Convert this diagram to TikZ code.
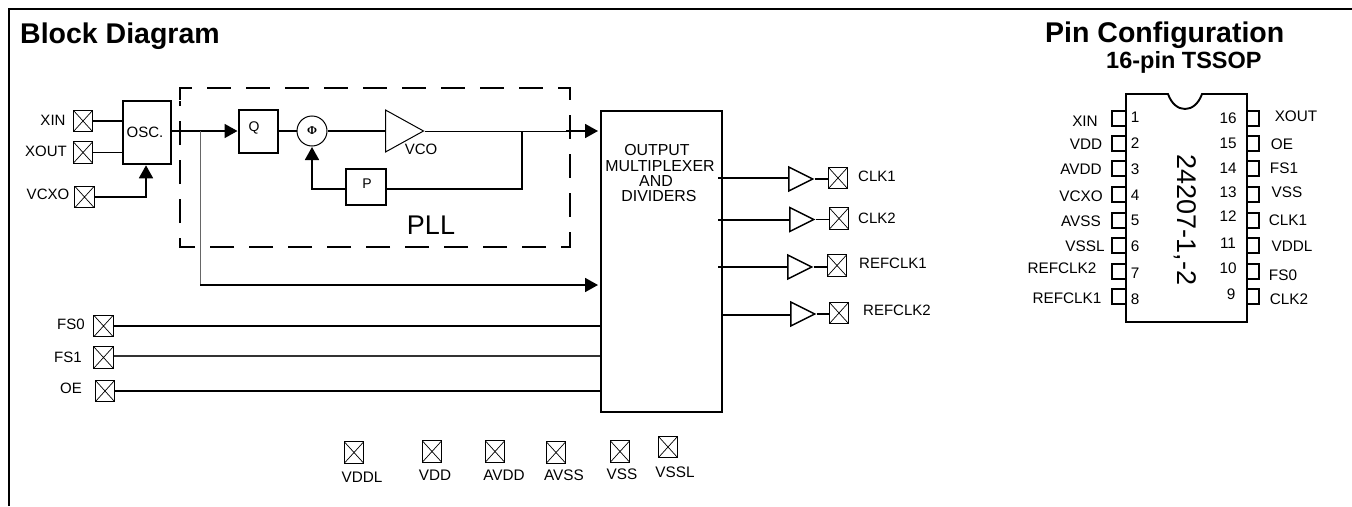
\documentclass[tikz,border=0pt]{standalone}
\usepackage{fontspec}
\setmainfont{Liberation Sans}
\newfontfamily\serifphi{Liberation Serif}
\usetikzlibrary{shapes.geometric,arrows.meta}
\newcommand{\fsz}[1]{\fontsize{#1}{#1}\selectfont}
\tikzset{
  x=1pt,y=-1pt,
  wire/.style={line width=1.8pt,black},
  thin wire/.style={line width=1pt,black!60},
  box/.style={draw,line width=1.8pt,inner sep=0pt,rectangle,anchor=north west},
  arrowed/.style={-{Triangle[width=14pt,length=13pt]},shorten >=0.5pt},
  pad/.style={draw,line width=0.9pt,inner sep=0pt,rectangle,minimum width=19.5pt,minimum height=21.5pt,
    path picture={\draw[line width=.7pt] (path picture bounding box.south west)--(path picture bounding box.north east)
      (path picture bounding box.north west)--(path picture bounding box.south east);}},
  lbl/.style={inner sep=0pt,font=\fsz{15}},
  muxlbl/.style={inner sep=0pt,font=\fsz{15.9}},
  toplbl/.style={inner sep=0pt,font=\fsz{15.3}},
  buf/.style={draw,line width=1.5pt,isosceles triangle,isosceles triangle stretches,inner sep=0pt,anchor=lower side,minimum width=24pt,minimum height=24pt},
  vco/.style={draw,line width=1pt,isosceles triangle,isosceles triangle stretches,inner sep=0pt,anchor=lower side,minimum width=42pt,minimum height=38pt},
  title/.style={inner sep=0pt,font=\bfseries\fsz{28.5}},
}
\begin{document}
\begin{tikzpicture}
\useasboundingbox (0,0) rectangle (1352,506);
\fill[white] (0,0) rectangle (1352,506);
% frame
\coordinate (f1) at (9,506); \coordinate (f2) at (9,9); \coordinate (f3) at (1352,9);
\draw[line width=1.8pt] (f1)--(f2)--(f3);
\node[title,anchor=base west] (t1) at (20,43) {Block Diagram};
\node[title,anchor=base west] (t2) at (1045,42) {Pin Configuration};
\node[inner sep=0pt,font=\bfseries\fsz{23.5},anchor=base west] (t3) at (1106,68) {16-pin TSSOP};
% PLL dashed box
\draw[line width=1.7pt,dash pattern=on 24pt off 15pt,dash phase=-1pt] (180,101) -- (180,88) -- (570,88) -- (570,247) -- (180,247) -- cycle;
% input pads
\node[pad] (pxin) at (83,121) {};
\node[pad] (pxout) at (83,152.5) {};
\node[pad] (pvcxo) at (84.5,197) {};
\node[lbl] (lxin) at (53,120) {XIN};
\node[lbl] (lxout) at (46,151) {XOUT};
\node[lbl] (lvcxo) at (48,194) {VCXO};
% blocks
\node[box,minimum width=48pt,minimum height=63pt] (osc) at (122,100) {};
\node[lbl] (losc) at (145,132) {OSC.};
\node[box,minimum width=39pt,minimum height=43pt] (q) at (238,109) {};
\node[lbl,font=\fsz{14}] (lq) at (254,128) {Q};
\node[draw,circle,line width=1pt,minimum size=30pt,inner sep=0pt,font=\serifphi\bfseries\fsz{12}] (phi) at (312,131) {Φ};
\node[vco] (v) at (385,131) {};
\node[lbl] (lv) at (421,149) {VCO};
\node[box,minimum width=40pt,minimum height=36pt] (p) at (345,168) {};
\node[lbl,font=\fsz{14}] (lp) at (367,184) {P};
\node[inner sep=0pt,font=\fsz{27}] (pll) at (431,225) {PLL};
\node[box,minimum width=121pt,minimum height=301pt] (mux) at (600,110) {};
\node[muxlbl] (m1) at (657,150) {OUTPUT};
\node[muxlbl] (m2) at (660,166) {MULTIPLEXER};
\node[muxlbl] (m3) at (656,181) {AND};
\node[muxlbl] (m4) at (659,196) {DIVIDERS};
% connectors
\draw[wire] (pxin.east) -- (pxin.east -| osc.west);
\draw[wire] (pxout.east) -- (pxout.east -| osc.west);
\coordinate (a1) at (146,197);
\draw[wire,arrowed] (pvcxo.east) -- (a1) -- (osc.south -| a1);
\draw[wire,arrowed] (170,131) -- (q.west |- 0,131);
\draw[wire] (q.east |- 0,131) -- (phi.west);
\draw[wire] (phi.east) -- (v.lower side);
\coordinate (fb) at (522,131);
\coordinate (rm) at (566,131);
\coordinate (mi) at (598.5,131);
\draw[line width=1pt] (v.apex) -- (rm);
\draw[wire,arrowed] (rm) -- (mi);
\draw[wire] (fb) -- (522,189) -- (p.east |- 0,189);
\draw[wire,arrowed] (p.west |- 0,189) -- (312,189) -- (phi.south);
\coordinate (jn) at (200,131);
\coordinate (bt) at (200,285);
\coordinate (mi2) at (598.5,285);
\draw[thin wire] (jn) -- (bt);
\draw[wire,arrowed] (bt) -- (mi2);
% control pads
\node[pad] (pfs0) at (103.5,326) {};
\node[pad] (pfs1) at (103.5,357.5) {};
\node[pad] (poe) at (105,391) {};
\node[lbl] (lfs0) at (71,324) {FS0};
\node[lbl] (lfs1) at (68,357) {FS1};
\node[lbl] (loe) at (71,388) {OE};
\draw[wire] (pfs0.east) -- (pfs0.east -| mux.west);
\draw[line width=1.1pt,black!80] (pfs1.east) ++(0,-1.5) -- (600,356);
\draw[wire] (poe.east) -- (poe.east -| mux.west);
% outputs
\node[buf] (b1) at (788,179) {};
\node[buf] (b2) at (789,219.5) {};
\node[buf] (b3) at (787,267) {};
\node[buf] (b4) at (790,314) {};
\node[pad] (o1) at (838,178) {};
\node[pad] (o2) at (839,218.5) {};
\node[pad] (o3) at (837,265.5) {};
\node[pad] (o4) at (839,313) {};
\node[lbl] (c1) at (877,176) {CLK1};
\node[lbl] (c2) at (877,218) {CLK2};
\node[lbl] (c3) at (893,263) {REFCLK1};
\node[lbl] (c4) at (897,310) {REFCLK2};
\coordinate (s1) at (718,178); \coordinate (s2) at (718,220); \coordinate (s3) at (718,267); \coordinate (s4) at (721,315);
\draw[wire] (s1) -- (s1 -| b1.lower side);
\draw[wire] (s2) -- (s2 -| b2.lower side);
\draw[wire] (s3) -- (s3 -| b3.lower side);
\draw[wire] (s4) -- (s4 -| b4.lower side);
\draw[wire] (b1.apex) -- (o1.west |- b1.apex);
\draw[wire] (b2.apex) -- (o2.west |- b2.apex);
\draw[wire] (b3.apex) -- (o3.west |- b3.apex);
\draw[wire] (b4.apex) -- (o4.west |- b4.apex);
% power pads
\node[pad] (v1) at (354,452.5) {};
\node[pad] (v2) at (432,451.5) {};
\node[pad] (v3) at (495,451.5) {};
\node[pad] (v4) at (556,452.5) {};
\node[pad] (v5) at (620,451.5) {};
\node[pad] (v6) at (668,447) {};
\node[toplbl] (w1) at (362,477) {VDDL};
\node[toplbl] (w2) at (435,475) {VDD};
\node[toplbl] (w3) at (504,475) {AVDD};
\node[toplbl] (w4) at (564,475) {AVSS};
\node[toplbl] (w5) at (622,474) {VSS};
\node[toplbl] (w6) at (675,472) {VSSL};
% IC
\coordinate (n1) at (1168,94); \coordinate (n2) at (1202,94);
\foreach \y [count=\i] in {111,136,161,187,213,238,264,289}{
  \draw[line width=1.5pt] (1126,\y) -- (1112,\y) -- (1112,\y+15) -- (1126,\y+15);
  \draw[line width=1.5pt] (1247,\y) -- (1259,\y) -- (1259,\y+15) -- (1247,\y+15);
}
\draw[line width=1.9pt,fill=white] (1126,94) -- (n1) .. controls (1175,114) and (1195,114) .. (n2) -- (1247,94) -- (1247,322) -- (1126,322) -- cycle;
\node[inner sep=0pt,font=\fsz{27},rotate=-90] (ic) at (1185,220) {24207-1,-2};
\foreach \t/\x/\y/\n in {XIN/1085/121/a,VDD/1086/144/b,AVDD/1081/169/c,VCXO/1081/196/d,AVSS/1081/221/e,VSSL/1085/246/f,REFCLK2/1062/268/g,REFCLK1/1067/298/h,XOUT/1296/116/i,OE/1282/144/j,FS1/1284/168/k,VSS/1287/192/l,CLK1/1288/220/m,VDDL/1292/246/o,FS0/1283/275/q,CLK2/1289/299/r}{
  \node[toplbl] (pn\n) at (\x,\y) {\t};
}
\foreach \t/\x/\y in {1/1135/117,2/1135/143,3/1135/169,4/1135/195,5/1135/220,6/1135/246,7/1135/273,8/1135/299,16/1228/118,15/1228/143,14/1228/168,13/1228/192,12/1228/216,11/1228/243,10/1228/268,9/1231/294}{
  \node[toplbl] (num\t) at (\x,\y) {\t};
}
\end{tikzpicture}
\end{document}
